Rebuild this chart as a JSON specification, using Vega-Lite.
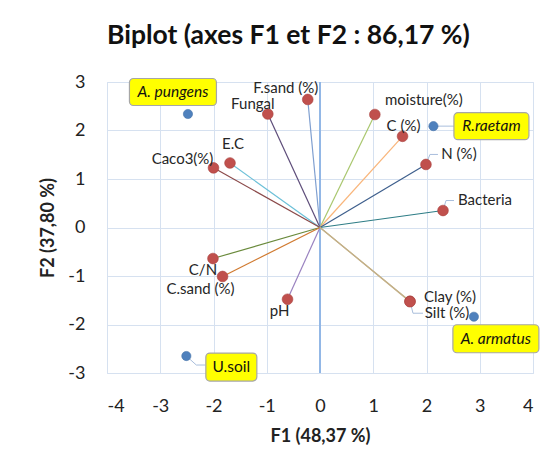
{
  "$schema": "https://vega.github.io/schema/vega-lite/v6.json",
  "width": 426,
  "height": 291,
  "autosize": {"type": "none"},
  "padding": {"left": 107, "top": 82, "right": 18, "bottom": 93},
  "background": "white",
  "title": {"text": "Biplot (axes F1 et F2 : 86,17 %)", "anchor": "start", "frame": "group", "font": "Lato", "fontSize": 26.5, "fontWeight": "bold", "color": "#111111", "offset": 24},
  "config": {
    "view": {"stroke": "#D6E1F0", "strokeWidth": 1},
    "axis": {"gridColor": "#D6E1F0", "gridWidth": 1, "domain": false, "ticks": false, "tickSize": 0, "labelFont": "Lato", "labelFontSize": 18, "labelColor": "#222222", "labelExpr": "'' + datum.value", "titleFont": "Lato", "titleFontSize": 18, "titleFontWeight": "bold", "titleColor": "#222222"}
  },
  "data": {"values": [
    {"name": "F.sand (%)", "type": "var", "x": -0.23, "y": 2.64},
    {"name": "Fungal", "type": "var", "x": -0.98, "y": 2.34},
    {"name": "moisture(%)", "type": "var", "x": 1.03, "y": 2.33},
    {"name": "C (%)", "type": "var", "x": 1.55, "y": 1.88},
    {"name": "N (%)", "type": "var", "x": 1.99, "y": 1.30},
    {"name": "Bacteria", "type": "var", "x": 2.31, "y": 0.35},
    {"name": "E.C", "type": "var", "x": -1.69, "y": 1.33},
    {"name": "Caco3(%)", "type": "var", "x": -2.0, "y": 1.23},
    {"name": "C/N", "type": "var", "x": -2.01, "y": -0.64},
    {"name": "C.sand (%)", "type": "var", "x": -1.83, "y": -1.01},
    {"name": "pH", "type": "var", "x": -0.61, "y": -1.48},
    {"name": "Silt (%)", "type": "var", "x": 1.69, "y": -1.52},
    {"name": "Clay (%)", "type": "var", "x": 1.69, "y": -1.53},
    {"name": "A. pungens", "type": "obs", "x": -2.48, "y": 2.34},
    {"name": "R.raetam", "type": "obs", "x": 2.13, "y": 2.09},
    {"name": "A. armatus", "type": "obs", "x": 2.89, "y": -1.84},
    {"name": "U.soil", "type": "obs", "x": -2.51, "y": -2.65}
  ]},
  "layer": [
    {
      "mark": {"type": "point", "opacity": 0},
      "encoding": {
        "x": {"field": "x", "type": "quantitative", "scale": {"domain": [-4, 4], "nice": false, "zero": false}, "axis": {"values": [-4, -3, -2, -1, 0, 1, 2, 3, 4], "labelPadding": 24, "title": "F1 (48,37 %)", "titlePadding": 12}},
        "y": {"field": "y", "type": "quantitative", "scale": {"domain": [-3, 3], "nice": false, "zero": false}, "axis": {"values": [-3, -2, -1, 0, 1, 2, 3], "labelPadding": 22, "title": "F2 (37,80 %)", "titlePadding": 10}}
      }
    },
    {
      "mark": {"type": "rule", "color": "#93B7E6", "strokeWidth": 1.2},
      "encoding": {"x": {"datum": 0, "type": "quantitative"}}
    },
    {
      "transform": [{"filter": "datum.type == 'var'"}],
      "mark": {"type": "rule", "strokeWidth": 1.2},
      "encoding": {
        "x": {"field": "x", "type": "quantitative"},
        "y": {"field": "y", "type": "quantitative"},
        "x2": {"datum": 0},
        "y2": {"datum": 0},
        "color": {"field": "name", "type": "nominal", "legend": null, "scale": {
          "domain": ["F.sand (%)", "Fungal", "moisture(%)", "C (%)", "N (%)", "Bacteria", "E.C", "Caco3(%)", "C/N", "C.sand (%)", "pH", "Silt (%)", "Clay (%)"],
          "range": ["#7F9FD0", "#5E4D7A", "#A9C76E", "#F9B57A", "#3D5E8C", "#2E7D86", "#6CC0D8", "#8B4A4A", "#6A8A3C", "#D07A30", "#9A82C0", "#BFAE82", "#C4B088"]}}
      }
    },
    {"transform": [{"filter": "datum.name == 'R.raetam'"}], "mark": {"type": "rule", "color": "#A9BEDC", "x2Offset": 21}, "encoding": {"x": {"field": "x", "type": "quantitative"}, "y": {"field": "y", "type": "quantitative"}, "x2": {"field": "x"}, "y2": {"field": "y"}}},
    {"transform": [{"filter": "datum.name == 'U.soil'"}], "mark": {"type": "rule", "color": "#A9BEDC", "x2Offset": 10, "y2Offset": 9}, "encoding": {"x": {"field": "x", "type": "quantitative"}, "y": {"field": "y", "type": "quantitative"}, "x2": {"field": "x"}, "y2": {"field": "y"}}},
    {"transform": [{"filter": "datum.name == 'U.soil'"}], "mark": {"type": "rule", "color": "#A9BEDC", "xOffset": 10, "yOffset": 9, "x2Offset": 19, "y2Offset": 9}, "encoding": {"x": {"field": "x", "type": "quantitative"}, "y": {"field": "y", "type": "quantitative"}, "x2": {"field": "x"}, "y2": {"field": "y"}}},
    {"transform": [{"filter": "datum.name == 'N (%)'"}], "mark": {"type": "rule", "color": "#A9BEDC", "x2Offset": 4, "y2Offset": -10}, "encoding": {"x": {"field": "x", "type": "quantitative"}, "y": {"field": "y", "type": "quantitative"}, "x2": {"field": "x"}, "y2": {"field": "y"}}},
    {"transform": [{"filter": "datum.name == 'N (%)'"}], "mark": {"type": "rule", "color": "#A9BEDC", "xOffset": 4, "yOffset": -10, "x2Offset": 12, "y2Offset": -10}, "encoding": {"x": {"field": "x", "type": "quantitative"}, "y": {"field": "y", "type": "quantitative"}, "x2": {"field": "x"}, "y2": {"field": "y"}}},
    {"transform": [{"filter": "datum.name == 'Bacteria'"}], "mark": {"type": "rule", "color": "#A9BEDC", "x2Offset": 3, "y2Offset": -10}, "encoding": {"x": {"field": "x", "type": "quantitative"}, "y": {"field": "y", "type": "quantitative"}, "x2": {"field": "x"}, "y2": {"field": "y"}}},
    {"transform": [{"filter": "datum.name == 'Bacteria'"}], "mark": {"type": "rule", "color": "#A9BEDC", "xOffset": 3, "yOffset": -10, "x2Offset": 11, "y2Offset": -10}, "encoding": {"x": {"field": "x", "type": "quantitative"}, "y": {"field": "y", "type": "quantitative"}, "x2": {"field": "x"}, "y2": {"field": "y"}}},
    {"transform": [{"filter": "datum.name == 'Silt (%)'"}], "mark": {"type": "rule", "color": "#A9BEDC", "x2Offset": 3, "y2Offset": 12}, "encoding": {"x": {"field": "x", "type": "quantitative"}, "y": {"field": "y", "type": "quantitative"}, "x2": {"field": "x"}, "y2": {"field": "y"}}},
    {"transform": [{"filter": "datum.name == 'Silt (%)'"}], "mark": {"type": "rule", "color": "#A9BEDC", "xOffset": 3, "yOffset": 12, "x2Offset": 13, "y2Offset": 12}, "encoding": {"x": {"field": "x", "type": "quantitative"}, "y": {"field": "y", "type": "quantitative"}, "x2": {"field": "x"}, "y2": {"field": "y"}}},
    {
      "transform": [{"filter": "datum.type == 'var'"}],
      "mark": {"type": "circle", "size": 115, "fill": "#C0504D", "stroke": "#A8403D", "strokeWidth": 0.6, "opacity": 1},
      "encoding": {"x": {"field": "x", "type": "quantitative"}, "y": {"field": "y", "type": "quantitative"}}
    },
    {
      "transform": [{"filter": "datum.type == 'obs'"}],
      "mark": {"type": "circle", "size": 85, "fill": "#4F81BD", "stroke": "#4472A8", "strokeWidth": 0.6, "opacity": 1},
      "encoding": {"x": {"field": "x", "type": "quantitative"}, "y": {"field": "y", "type": "quantitative"}}
    },
    {"transform": [{"filter": "datum.name == 'A. pungens'"}], "mark": {"type": "rect", "width": 87, "height": 27, "cornerRadius": 4, "fill": "#FFFF00", "stroke": "#A6A6A6", "strokeWidth": 1.2, "xOffset": -15, "yOffset": -22}, "encoding": {"x": {"field": "x", "type": "quantitative"}, "y": {"field": "y", "type": "quantitative"}}},
    {"transform": [{"filter": "datum.name == 'R.raetam'"}], "mark": {"type": "rect", "width": 75, "height": 27, "cornerRadius": 4, "fill": "#FFFF00", "stroke": "#A6A6A6", "strokeWidth": 1.2, "xOffset": 58, "yOffset": 0}, "encoding": {"x": {"field": "x", "type": "quantitative"}, "y": {"field": "y", "type": "quantitative"}}},
    {"transform": [{"filter": "datum.name == 'A. armatus'"}], "mark": {"type": "rect", "width": 86, "height": 28, "cornerRadius": 4, "fill": "#FFFF00", "stroke": "#A6A6A6", "strokeWidth": 1.2, "xOffset": 22, "yOffset": 22}, "encoding": {"x": {"field": "x", "type": "quantitative"}, "y": {"field": "y", "type": "quantitative"}}},
    {"transform": [{"filter": "datum.name == 'U.soil'"}], "mark": {"type": "rect", "width": 51, "height": 28, "cornerRadius": 4, "fill": "#FFFF00", "stroke": "#A6A6A6", "strokeWidth": 1.2, "xOffset": 45, "yOffset": 11}, "encoding": {"x": {"field": "x", "type": "quantitative"}, "y": {"field": "y", "type": "quantitative"}}},
    {"transform": [{"filter": "datum.name == 'A. pungens'"}], "mark": {"type": "text", "dx": -15, "dy": -22, "font": "Lato", "fontSize": 15.5, "fontStyle": "italic", "color": "#111111"}, "encoding": {"x": {"field": "x", "type": "quantitative"}, "y": {"field": "y", "type": "quantitative"}, "text": {"field": "name"}}},
    {"transform": [{"filter": "datum.name == 'R.raetam'"}], "mark": {"type": "text", "dx": 58, "dy": 0, "font": "Lato", "fontSize": 15.5, "fontStyle": "italic", "color": "#111111"}, "encoding": {"x": {"field": "x", "type": "quantitative"}, "y": {"field": "y", "type": "quantitative"}, "text": {"field": "name"}}},
    {"transform": [{"filter": "datum.name == 'A. armatus'"}], "mark": {"type": "text", "dx": 22, "dy": 22, "font": "Lato", "fontSize": 15.5, "fontStyle": "italic", "color": "#111111"}, "encoding": {"x": {"field": "x", "type": "quantitative"}, "y": {"field": "y", "type": "quantitative"}, "text": {"field": "name"}}},
    {"transform": [{"filter": "datum.name == 'U.soil'"}], "mark": {"type": "text", "dx": 45, "dy": 11, "font": "Lato", "fontSize": 15.5, "color": "#111111"}, "encoding": {"x": {"field": "x", "type": "quantitative"}, "y": {"field": "y", "type": "quantitative"}, "text": {"field": "name"}}},
    {"transform": [{"filter": "datum.name == 'F.sand (%)'"}], "mark": {"type": "text", "dx": -22, "dy": -11, "font": "Lato", "fontSize": 15, "color": "#262626"}, "encoding": {"x": {"field": "x", "type": "quantitative"}, "y": {"field": "y", "type": "quantitative"}, "text": {"field": "name"}}},
    {"transform": [{"filter": "datum.name == 'Fungal'"}], "mark": {"type": "text", "dx": -15, "dy": -10, "font": "Lato", "fontSize": 15, "color": "#262626"}, "encoding": {"x": {"field": "x", "type": "quantitative"}, "y": {"field": "y", "type": "quantitative"}, "text": {"field": "name"}}},
    {"transform": [{"filter": "datum.name == 'moisture(%)'"}], "mark": {"type": "text", "dx": 49, "dy": -14, "font": "Lato", "fontSize": 15, "color": "#262626"}, "encoding": {"x": {"field": "x", "type": "quantitative"}, "y": {"field": "y", "type": "quantitative"}, "text": {"field": "name"}}},
    {"transform": [{"filter": "datum.name == 'C (%)'"}], "mark": {"type": "text", "dx": 1, "dy": -10, "font": "Lato", "fontSize": 15, "color": "#262626"}, "encoding": {"x": {"field": "x", "type": "quantitative"}, "y": {"field": "y", "type": "quantitative"}, "text": {"field": "name"}}},
    {"transform": [{"filter": "datum.name == 'N (%)'"}], "mark": {"type": "text", "dx": 33, "dy": -10, "font": "Lato", "fontSize": 15, "color": "#262626"}, "encoding": {"x": {"field": "x", "type": "quantitative"}, "y": {"field": "y", "type": "quantitative"}, "text": {"field": "name"}}},
    {"transform": [{"filter": "datum.name == 'Bacteria'"}], "mark": {"type": "text", "dx": 42, "dy": -11, "font": "Lato", "fontSize": 15, "color": "#262626"}, "encoding": {"x": {"field": "x", "type": "quantitative"}, "y": {"field": "y", "type": "quantitative"}, "text": {"field": "name"}}},
    {"transform": [{"filter": "datum.name == 'E.C'"}], "mark": {"type": "text", "dx": 3, "dy": -19, "font": "Lato", "fontSize": 15, "color": "#262626"}, "encoding": {"x": {"field": "x", "type": "quantitative"}, "y": {"field": "y", "type": "quantitative"}, "text": {"field": "name"}}},
    {"transform": [{"filter": "datum.name == 'Caco3(%)'"}], "mark": {"type": "text", "dx": -31, "dy": -9, "font": "Lato", "fontSize": 15, "color": "#262626"}, "encoding": {"x": {"field": "x", "type": "quantitative"}, "y": {"field": "y", "type": "quantitative"}, "text": {"field": "name"}}},
    {"transform": [{"filter": "datum.name == 'C/N'"}], "mark": {"type": "text", "dx": -10, "dy": 11, "font": "Lato", "fontSize": 15, "color": "#262626"}, "encoding": {"x": {"field": "x", "type": "quantitative"}, "y": {"field": "y", "type": "quantitative"}, "text": {"field": "name"}}},
    {"transform": [{"filter": "datum.name == 'C.sand (%)'"}], "mark": {"type": "text", "dx": -22, "dy": 13, "font": "Lato", "fontSize": 15, "color": "#262626"}, "encoding": {"x": {"field": "x", "type": "quantitative"}, "y": {"field": "y", "type": "quantitative"}, "text": {"field": "name"}}},
    {"transform": [{"filter": "datum.name == 'pH'"}], "mark": {"type": "text", "dx": -8, "dy": 12, "font": "Lato", "fontSize": 15, "color": "#262626"}, "encoding": {"x": {"field": "x", "type": "quantitative"}, "y": {"field": "y", "type": "quantitative"}, "text": {"field": "name"}}},
    {"transform": [{"filter": "datum.name == 'Clay (%)'"}], "mark": {"type": "text", "dx": 40, "dy": -5, "font": "Lato", "fontSize": 15, "color": "#262626"}, "encoding": {"x": {"field": "x", "type": "quantitative"}, "y": {"field": "y", "type": "quantitative"}, "text": {"field": "name"}}},
    {"transform": [{"filter": "datum.name == 'Silt (%)'"}], "mark": {"type": "text", "dx": 37, "dy": 12, "font": "Lato", "fontSize": 15, "color": "#262626"}, "encoding": {"x": {"field": "x", "type": "quantitative"}, "y": {"field": "y", "type": "quantitative"}, "text": {"field": "name"}}}
  ]
}
